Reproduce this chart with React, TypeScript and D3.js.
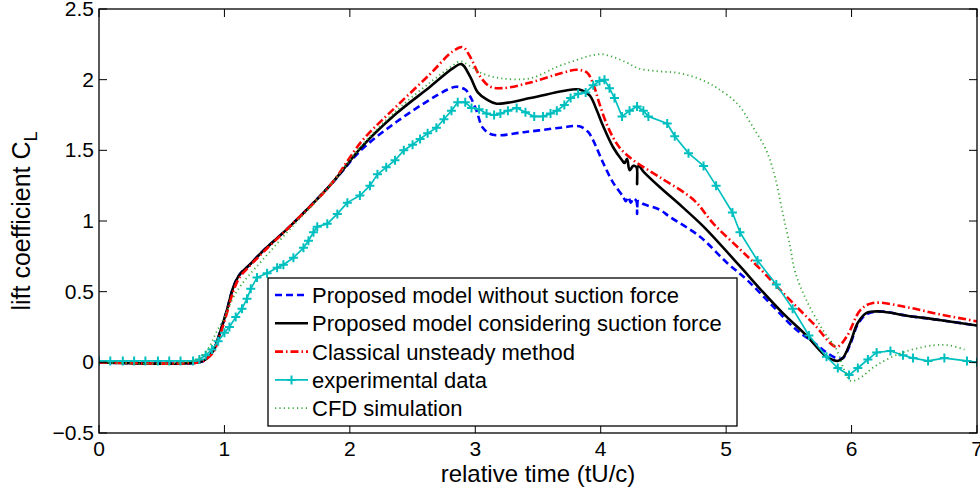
import React from "react";
import * as d3 from "d3";

const xTicks = [0, 1, 2, 3, 4, 5, 6, 7];
const yTicks = [-0.5, 0, 0.5, 1, 1.5, 2, 2.5];
const yTickLabels = ["\u22120.5", "0", "0.5", "1", "1.5", "2", "2.5"];

const legendLabels = [
  "Proposed model without suction force",
  "Proposed model considering suction force",
  "Classical unsteady method",
  "experimental data",
  "CFD simulation",
];

const blueT = [0, 0.8, 0.85, 0.91, 0.96, 1.02, 1.07, 1.12, 1.2, 1.31, 1.52, 1.84, 2.1, 2.37, 2.64, 2.78, 2.85, 2.92, 2.96, 3.01, 3.06, 3.14, 3.4, 3.68, 3.83, 3.9, 3.94, 4.02, 4.1, 4.18, 4.2, 4.22, 4.24, 4.26, 4.285, 4.29, 4.3, 4.34, 4.47, 4.55, 4.79, 5.0, 5.17, 5.38, 5.56, 5.7, 5.8, 5.88, 5.93, 5.99, 6.05, 6.12, 6.23, 6.44, 6.7, 7];
const blueV = [0, 0, 0.02, 0.08, 0.2, 0.37, 0.53, 0.62, 0.69, 0.79, 0.96, 1.25, 1.51, 1.7, 1.86, 1.93, 1.95, 1.93, 1.88, 1.78, 1.66, 1.61, 1.63, 1.66, 1.67, 1.63, 1.57, 1.41, 1.27, 1.17, 1.14, 1.17, 1.13, 1.16, 1.14, 1.05, 1.14, 1.12, 1.08, 1.03, 0.89, 0.71, 0.58, 0.39, 0.23, 0.14, 0.07, 0.03, 0.03, 0.13, 0.27, 0.34, 0.36, 0.33, 0.3, 0.26];

const blackT = [0, 0.8, 0.85, 0.91, 0.96, 1.02, 1.07, 1.12, 1.2, 1.31, 1.52, 1.84, 2.1, 2.37, 2.64, 2.82, 2.89, 2.96, 3.02, 3.09, 3.17, 3.44, 3.7, 3.83, 3.91, 3.97, 4.02, 4.1, 4.17, 4.19, 4.21, 4.23, 4.26, 4.285, 4.29, 4.3, 4.35, 4.47, 4.65, 4.82, 5.11, 5.27, 5.45, 5.64, 5.8, 5.89, 5.93, 5.99, 6.05, 6.12, 6.23, 6.44, 6.7, 7];
const blackV = [0, 0, 0.02, 0.08, 0.2, 0.37, 0.53, 0.62, 0.69, 0.79, 0.96, 1.25, 1.53, 1.76, 1.95, 2.08, 2.11, 2.02, 1.91, 1.86, 1.83, 1.87, 1.92, 1.93, 1.89, 1.78, 1.67, 1.52, 1.43, 1.41, 1.44, 1.36, 1.39, 1.38, 1.26, 1.39, 1.34, 1.24, 1.1, 0.96, 0.68, 0.52, 0.35, 0.19, 0.04, 0.01, 0.03, 0.14, 0.28, 0.35, 0.36, 0.33, 0.3, 0.26];

const redT = [0, 0.8, 0.85, 0.91, 0.96, 1.02, 1.07, 1.12, 1.2, 1.31, 1.52, 1.84, 2.1, 2.37, 2.64, 2.82, 2.9, 2.96, 3.04, 3.12, 3.22, 3.44, 3.7, 3.81, 3.89, 3.94, 3.99, 4.06, 4.15, 4.26, 4.47, 4.74, 4.9, 5.11, 5.25, 5.51, 5.7, 5.88, 5.96, 6.07, 6.17, 6.44, 6.7, 7];
const redV = [0, 0, 0.02, 0.07, 0.18, 0.35, 0.5, 0.6, 0.68, 0.78, 0.96, 1.25, 1.57, 1.81, 2.04, 2.2, 2.23, 2.16, 2.02, 1.95, 1.94, 1.98, 2.05, 2.07, 2.05, 1.97, 1.83, 1.66, 1.52, 1.43, 1.31, 1.15, 0.98, 0.8, 0.68, 0.44, 0.27, 0.11, 0.18, 0.37, 0.42, 0.39, 0.34, 0.29];

const expT = [0, 0.09, 0.19, 0.28, 0.37, 0.47, 0.56, 0.65, 0.75, 0.8, 0.85, 0.9, 0.95, 1.0, 1.04, 1.09, 1.14, 1.18, 1.21, 1.26, 1.34, 1.42, 1.47, 1.55, 1.63, 1.67, 1.71, 1.74, 1.82, 1.9, 1.98, 2.08, 2.16, 2.22, 2.29, 2.36, 2.43, 2.5, 2.56, 2.62, 2.69, 2.75, 2.81, 2.86, 2.92, 2.97, 3.03, 3.09, 3.15, 3.2, 3.26, 3.33, 3.4, 3.47, 3.54, 3.6, 3.65, 3.71, 3.76, 3.82, 3.88, 3.94, 3.99, 4.03, 4.07, 4.11, 4.17, 4.23, 4.29, 4.34, 4.38, 4.53, 4.59, 4.7, 4.82, 4.92, 5.05, 5.11, 5.25, 5.4, 5.53, 5.66, 5.8, 5.89, 5.98, 6.05, 6.13, 6.2, 6.31, 6.41, 6.49, 6.61, 6.74, 6.92, 7.0];
const expV = [0.01, 0.01, 0.01, 0.01, 0.01, 0.01, 0.01, 0.01, 0.01, 0.02, 0.05, 0.09, 0.15, 0.21, 0.25, 0.32, 0.38, 0.45, 0.52, 0.6, 0.63, 0.67, 0.69, 0.74, 0.81, 0.86, 0.92, 0.96, 0.98, 1.05, 1.13, 1.18, 1.25, 1.33, 1.38, 1.43, 1.5, 1.54, 1.58, 1.62, 1.66, 1.72, 1.78, 1.84, 1.84, 1.8, 1.79, 1.76, 1.75, 1.76, 1.78, 1.8, 1.77, 1.74, 1.74, 1.76, 1.78, 1.82, 1.87, 1.9, 1.91, 1.96, 1.99, 2.0, 1.94, 1.87, 1.74, 1.78, 1.81, 1.78, 1.74, 1.69, 1.6, 1.48, 1.39, 1.25, 1.06, 0.92, 0.72, 0.55, 0.38, 0.19, 0.04, -0.04, -0.09, -0.04, 0.02, 0.07, 0.08, 0.05, 0.03, 0.01, 0.03, 0.01, 0.0];

const cfdT = [0, 0.75, 0.85, 0.94, 1.0, 1.06, 1.12, 1.19, 1.3, 1.52, 1.84, 2.1, 2.37, 2.64, 2.82, 2.88, 2.95, 3.04, 3.2, 3.44, 3.65, 3.81, 3.92, 4.01, 4.1, 4.21, 4.3, 4.45, 4.6, 4.74, 4.85, 4.93, 5.09, 5.21, 5.32, 5.39, 5.45, 5.51, 5.55, 5.64, 5.77, 5.88, 5.94, 5.99, 6.05, 6.2, 6.41, 6.65, 6.78, 6.9];
const cfdV = [0, 0.01, 0.07, 0.22, 0.32, 0.44, 0.53, 0.61, 0.72, 0.94, 1.25, 1.54, 1.78, 1.98, 2.1, 2.13, 2.1, 2.05, 2.01, 2.01, 2.09, 2.14, 2.17, 2.18, 2.16, 2.12, 2.08, 2.06, 2.05, 2.02, 1.98, 1.94, 1.83, 1.67, 1.5, 1.31, 1.06, 0.82, 0.64, 0.44, 0.23, 0.09, -0.05, -0.13, -0.12, -0.02, 0.07, 0.12, 0.12, 0.09];

const W = 980;
const H = 493;
const M = { left: 99, right: 977, top: 9, bottom: 433 };
const FONT = "'Liberation Sans', Arial, Helvetica, sans-serif";

const x = d3.scaleLinear().domain([0, 7]).range([M.left, M.right]);
const y = d3.scaleLinear().domain([-0.5, 2.5]).range([M.bottom, M.top]);

const zip = (t: number[], v: number[]) => t.map((tt, i) => [tt, v[i]] as [number, number]);

const smooth = d3
  .line<[number, number]>()
  .x((d) => x(d[0]))
  .y((d) => y(d[1]))
  .curve(d3.curveCatmullRom.alpha(0.5));
const straight = d3
  .line<[number, number]>()
  .x((d) => x(d[0]))
  .y((d) => y(d[1]));

const styles = {
  blue: { stroke: "#0000ff", strokeWidth: 2.6, strokeDasharray: "7,4" },
  black: { stroke: "#000000", strokeWidth: 2.6, strokeDasharray: undefined },
  red: { stroke: "#ff0000", strokeWidth: 2.6, strokeDasharray: "8,3,1.5,3" },
  cyan: { stroke: "#00bfbf", strokeWidth: 1.7, strokeDasharray: undefined },
  green: { stroke: "#3aa83a", strokeWidth: 1.8, strokeDasharray: "1.2,3.2" },
};

function Plus({ cx, cy }: { cx: number; cy: number }) {
  const s = 4.5;
  return (
    <path
      d={`M${cx - s},${cy}H${cx + s}M${cx},${cy - s}V${cy + s}`}
      stroke="#00bfbf"
      strokeWidth={2}
      fill="none"
    />
  );
}

export default function App() {
  const blue = zip(blueT, blueV);
  const black = zip(blackT, blackV);
  const red = zip(redT, redV);
  const exp = zip(expT, expV);
  const cfd = zip(cfdT, cfdV);

  const legX = 268;
  const legY = 278;
  const legW = 469;
  const legH = 148;
  const rowH = 28.3;
  const keys: (keyof typeof styles)[] = ["blue", "black", "red", "cyan", "green"];

  return (
    <svg
      width={W}
      height={H}
      style={{ position: "absolute", left: 0, top: 0, background: "#fff" }}
      fontFamily={FONT}
    >
      <rect x={0} y={0} width={W} height={H} fill="#fff" />
      <defs>
        <clipPath id="plotClip">
          <rect x={M.left} y={M.top} width={M.right - M.left} height={M.bottom - M.top} />
        </clipPath>
      </defs>

      <g clipPath="url(#plotClip)" fill="none" strokeLinejoin="round">
        <path d={smooth(blue) || ""} {...styles.blue} />
        <path d={smooth(black) || ""} {...styles.black} />
        <path d={smooth(red) || ""} {...styles.red} />
        <path d={straight(exp) || ""} {...styles.cyan} />
        {exp.map((d, i) => (
          <Plus key={i} cx={x(d[0])} cy={y(d[1])} />
        ))}
        <path d={smooth(cfd) || ""} {...styles.green} />
      </g>

      <rect
        x={M.left}
        y={M.top}
        width={M.right - M.left}
        height={M.bottom - M.top}
        fill="none"
        stroke="#000"
        strokeWidth={1.3}
      />
      {xTicks.map((t) => (
        <g key={"xt" + t}>
          <line x1={x(t)} x2={x(t)} y1={M.bottom} y2={M.bottom - 8} stroke="#000" strokeWidth={1} />
          <line x1={x(t)} x2={x(t)} y1={M.top} y2={M.top + 8} stroke="#000" strokeWidth={1} />
          <text x={x(t)} y={M.bottom + 23} textAnchor="middle" fontSize={21}>
            {t}
          </text>
        </g>
      ))}
      {yTicks.map((t, i) => (
        <g key={"yt" + t}>
          <line x1={M.left} x2={M.left + 8} y1={y(t)} y2={y(t)} stroke="#000" strokeWidth={1} />
          <line x1={M.right} x2={M.right - 8} y1={y(t)} y2={y(t)} stroke="#000" strokeWidth={1} />
          <text x={M.left - 5} y={y(t) + 7} textAnchor="end" fontSize={21}>
            {yTickLabels[i]}
          </text>
        </g>
      ))}

      <text x={(M.left + M.right) / 2} y={482} textAnchor="middle" fontSize={24}>
        relative time (tU/c)
      </text>
      <text
        transform={`translate(30,${(M.top + M.bottom) / 2}) rotate(-90)`}
        textAnchor="middle"
        fontSize={25}
      >
        lift coefficient C<tspan fontSize={18} dy={7}>L</tspan>
      </text>

      <rect x={legX} y={legY} width={legW} height={legH} fill="#fff" stroke="#000" strokeWidth={1.3} />
      {keys.map((k, i) => {
        const cy = legY + 17 + i * rowH;
        const st = styles[k];
        return (
          <g key={k}>
            <line
              x1={legX + 7}
              x2={legX + 40}
              y1={cy}
              y2={cy}
              stroke={st.stroke}
              strokeWidth={st.strokeWidth}
              strokeDasharray={st.strokeDasharray}
            />
            {k === "cyan" && <Plus cx={legX + 23.5} cy={cy} />}
            <text x={legX + 44} y={cy + 8} fontSize={22}>
              {legendLabels[i]}
            </text>
          </g>
        );
      })}
    </svg>
  );
}
